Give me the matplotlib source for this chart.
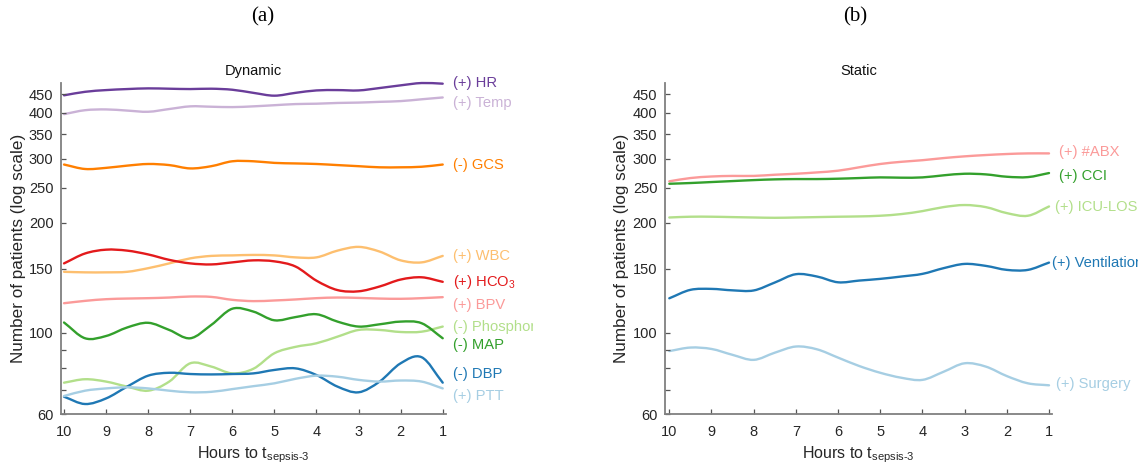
import numpy as np
import matplotlib
matplotlib.use('Agg')
import matplotlib.pyplot as plt
from matplotlib.path import Path
from matplotlib.patches import PathPatch
from matplotlib.transforms import Bbox, TransformedBbox, offset_copy

plt.rcParams['font.family'] = 'Liberation Sans'
plt.rcParams['mathtext.fontset'] = 'custom'
plt.rcParams['mathtext.rm'] = 'Liberation Sans'
plt.rcParams['mathtext.it'] = 'Liberation Sans:italic'
plt.rcParams['mathtext.default'] = 'regular'

# hours before sepsis onset, every half hour
hours = [10, 9.5, 9, 8.5, 8, 7.5, 7, 6.5, 6, 5.5, 5, 4.5, 4, 3.5, 3, 2.5, 2, 1.5, 1]

# dynamic features: number of patients
hr = [447, 457, 462, 465, 467, 466, 465, 466, 463, 454, 446, 454, 461, 462, 461, 468, 476, 483, 481]
temp = [397, 407, 409, 406, 403, 410, 417, 416, 415, 417, 420, 423, 424, 426, 427, 429, 431, 436, 441]
gcs = [289, 281, 283, 287, 290, 288, 282, 286, 295, 295, 292, 291, 290, 288, 286, 284, 284, 285, 289]
wbc = [147, 146.5, 146.5, 147, 150.4, 155, 160, 162.5, 163, 163.5, 163, 161, 161, 168, 172, 167, 158, 156, 162.5]
hco3 = [155, 165, 169, 168, 164, 158.5, 155, 154, 156, 158, 157, 152, 139, 131, 130, 134, 140, 142, 138]
bpv = [120.6, 122.4, 123.7, 124.2, 124.5, 125, 125.8, 125.5, 123.2, 122.2, 122.7, 123.5, 124.5, 125, 124.7, 124.2, 124, 124.5, 125.3]
phosphor = [73.1, 74.7, 73.6, 71.3, 69.5, 73.6, 82.6, 80.9, 77.5, 79.8, 88, 91.6, 93.7, 97.7, 101.9, 101.9, 100.6, 100.8, 104.1]
map_ = [106.8, 96.7, 98.1, 103.5, 106.6, 101.9, 96.7, 105.2, 116.5, 114.4, 108.3, 110.5, 112.5, 107.4, 104.1, 105.6, 107.4, 106.3, 96.7]
dbp = [66.9, 63.9, 66.2, 71.3, 76.4, 77.8, 77.2, 77, 77.2, 77.5, 79.2, 80, 76.7, 71.3, 68.8, 73.6, 82.6, 85.8, 73.1]
ptt = [67.2, 69.5, 70.5, 71, 70.5, 69.5, 68.8, 69, 70.2, 71.5, 72.8, 74.9, 76.4, 75.9, 74.4, 73.6, 74.1, 73.6, 70.5]

# static features: number of patients
abx = [260, 265.4, 268, 269, 269, 271, 272.7, 275, 278, 284, 290, 294, 297, 301, 304.3, 306.8, 308.8, 310, 310]
cci = [256, 257.2, 258.8, 260.4, 262, 263.2, 263.7, 263.7, 264.3, 265.4, 266.5, 266, 266.5, 270, 272.7, 271.6, 267.6, 267, 273.9]
icu_los = [207, 208, 208, 207.5, 207, 206.6, 207, 207.5, 208, 208.4, 209.3, 211.5, 215.5, 221, 223.9, 221, 212.8, 209.3, 221.9]
ventilation = [124.4, 131.2, 132, 130.8, 130.7, 137.4, 144.8, 142.7, 137.6, 139.1, 140.6, 142.7, 145.1, 150.4, 154.5, 152.6, 148.8, 148.8, 155.8]
surgery = [89.2, 91.2, 90.4, 87.1, 84.4, 88.3, 91.8, 90.2, 85.6, 81.2, 77.8, 75.4, 74.4, 78.3, 82.6, 80.9, 76.2, 72.8, 71.9]

dyn_series = [hr, temp, gcs, wbc, hco3, bpv, phosphor, map_, dbp, ptt]
dyn_names = ['(+) HR', '(+) Temp', '(-) GCS', '(+) WBC', '(+) HCO$_3$', '(+) BPV',
             '(-) Phosphor', '(-) MAP', '(-) DBP', '(+) PTT']
dyn_colors = ['#6a3d9a', '#cab2d6', '#ff7f00', '#fdbf6f', '#e31a1c', '#fb9a99',
              '#b2df8a', '#33a02c', '#1f78b4', '#a6cee3']
# label baselines, spread apart so they don't collide
dyn_label_y = [471, 415, 280.6, 158.2, 134.5, 116.2, 101.3, 90.2, 75.2, 65.4]
dyn_label_dx = [10] * 10

sta_series = [abx, cci, icu_los, ventilation, surgery]
sta_names = ['(+) #ABX', '(+) CCI', '(+) ICU-LOS', '(+) Ventilation', '(+) Surgery']
sta_colors = ['#fb9a99', '#33a02c', '#b2df8a', '#1f78b4', '#a6cee3']
sta_label_y = [305, 262.9, 216.2, 151.6, 70.7]
sta_label_dx = [10, 10, 5.5, 3, 7]

yticks = [60, 70, 80, 90, 100, 150, 200, 250, 300, 350, 400, 450]
yticklabels = ['60', '', '', '', '100', '150', '200', '250', '300', '350', '400', '450']
xticks = [10, 9, 8, 7, 6, 5, 4, 3, 2, 1]


def smooth_path(x, y):
    # Catmull-Rom through the points, built in log-y so it bends like the axis
    p = np.column_stack([np.asarray(x, float), np.log10(y)])
    m = np.empty_like(p)
    m[1:-1] = (p[2:] - p[:-2]) / 2
    m[0] = p[1] - p[0]
    m[-1] = p[-1] - p[-2]
    verts = [p[0]]
    codes = [Path.MOVETO]
    for i in range(len(p) - 1):
        verts += [p[i] + m[i] / 3, p[i + 1] - m[i + 1] / 3, p[i + 1]]
        codes += [Path.CURVE4] * 3
    verts = np.array(verts)
    verts[:, 1] = 10 ** verts[:, 1]
    return Path(verts, codes)


fig = plt.figure(figsize=(11.43, 4.75), dpi=100)
ax1 = fig.add_axes([0.0534, 0.1284, 0.3368, 0.6968])
ax2 = fig.add_axes([0.5818, 0.1284, 0.3386, 0.6968])


def draw_panel(ax, series, names, colors, label_y, label_dx, title, clip_x, xlim):
    for vals, name, c, ly, dx in zip(series, names, colors, label_y, label_dx):
        ax.add_patch(PathPatch(smooth_path(hours, vals), fill=False, edgecolor=c,
                               lw=1.7, capstyle='round', clip_on=False))
        tr = offset_copy(ax.transData, fig=fig, x=dx, y=0, units='dots')
        t = ax.text(hours[-1], ly, name, color=c, fontsize=10.6, transform=tr,
                    ha='left', va='baseline')
        t.set_clip_path(None)
        t.set_clip_box(TransformedBbox(Bbox([[0, 0], [clip_x, 1]]), fig.transFigure))
        t.set_clip_on(True)

    ax.set_yscale('log')
    ax.set_ylim(60, 483)
    ax.set_xlim(*xlim)
    ax.set_yticks(yticks)
    ax.set_yticklabels(yticklabels)
    ax.yaxis.set_minor_locator(matplotlib.ticker.NullLocator())
    ax.set_xticks(xticks)
    ax.set_xticklabels([str(v) for v in xticks])
    for s in ['top', 'right']:
        ax.spines[s].set_visible(False)
    for s in ['left', 'bottom']:
        ax.spines[s].set_color('#808080')
        ax.spines[s].set_linewidth(1.3)
    ax.tick_params(direction='in', length=3.5, width=0.9, color='#555555',
                   labelsize=10.5, labelcolor='#262626', pad=5.5)
    ax.tick_params(axis='x', pad=8)
    ax.set_title(title, fontsize=10.5, pad=5.5, color='#111111')
    ax.set_xlabel(r'Hours to t$_{sepsis\text{-}3}$', fontsize=11.5, color='#262626', labelpad=4)
    ax.set_ylabel('Number of patients (log scale)', fontsize=12.3, color='#262626')
    ax.yaxis.set_label_coords(-0.092, 0.5)


draw_panel(ax1, dyn_series, dyn_names, dyn_colors, dyn_label_y, dyn_label_dx,
           'Dynamic', 0.4663, (10.071, 0.922))
draw_panel(ax2, sta_series, sta_names, sta_colors, sta_label_y, sta_label_dx,
           'Static', 0.9956, (10.102, 0.929))

fig.text(263 / 1143, 1 - 17 / 475, '(a)', family='Liberation Serif', fontsize=15,
         ha='center', va='center')
fig.text(855 / 1143, 1 - 17 / 475, '(b)', family='Liberation Serif', fontsize=15,
         ha='center', va='center')

fig.savefig('out.png', dpi=100)
